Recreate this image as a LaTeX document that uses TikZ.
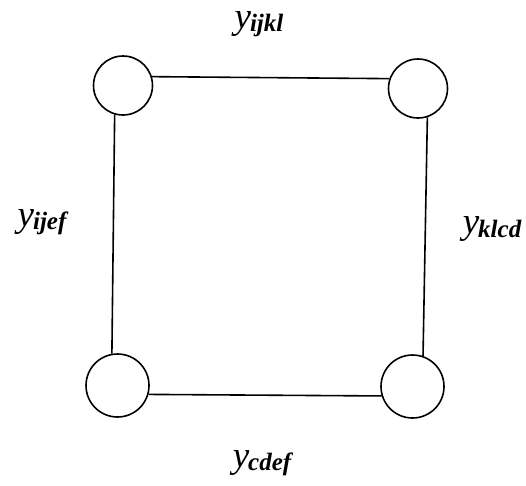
\documentclass[tikz,border=0pt]{standalone}
\usepackage{fontspec}
\setmainfont{Liberation Serif}
\newcommand{\ylab}[1]{{\fontsize{37}{37}\selectfont\itshape y}\kern-1pt\raisebox{-0.36em}{\fontsize{25}{25}\selectfont\itshape\bfseries #1}}
\begin{document}
\begin{tikzpicture}[x=1pt,y=-1pt,
  vert/.style={circle,draw,line width=1.6pt,inner sep=0pt},
  edge/.style={line width=1.6pt},
  lab/.style={inner sep=0pt,anchor=center}]
\useasboundingbox (0,0) rectangle (526,485);
\node[vert,minimum size=59pt] (tl) at (123,85.5) {};
\node[vert,minimum size=59pt] (tr) at (418,88.5) {};
\node[vert,minimum size=63pt] (bl) at (117.5,385.5) {};
\node[vert,minimum size=63pt] (br) at (412.5,386.5) {};
\draw[edge] (tl.17) -- (tr.161);
\draw[edge] (tl.254) -- (bl.100);
\draw[edge] (tr.288) -- (br.71);
\draw[edge] (bl.344) -- (br.197.5);
\node[lab] (l1) at (259,24) {\ylab{ijkl}};
\node[lab] (l2) at (42,222) {\ylab{ijef}};
\node[lab] (l3) at (492,229) {\ylab{klcd}};
\node[lab] (l4) at (262,463) {\ylab{cdef}};
\end{tikzpicture}
\end{document}
